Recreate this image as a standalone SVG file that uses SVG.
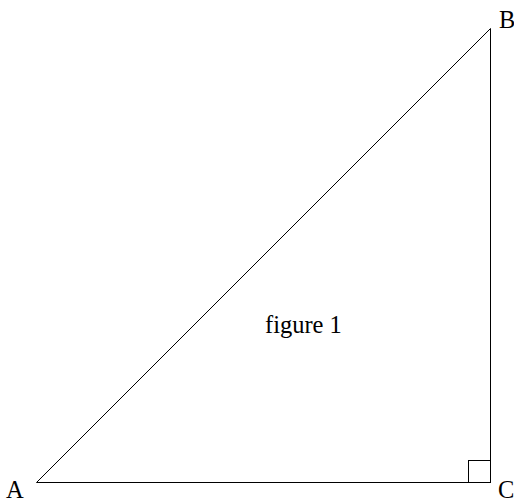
<svg xmlns="http://www.w3.org/2000/svg" width="514" height="501" viewBox="0 0 514 501">
<style>
.l{fill:none;stroke:#000;stroke-width:1}
.t{font-family:"Liberation Serif","Times New Roman",serif;font-size:24.5px;fill:#000}
</style>
<rect width="514" height="501" fill="#fff"/>
<g id="connectors">
<path class="l" d="M36.5 482.5 L490.5 28.5 L490.5 482.5 Z"/>
<rect class="l" x="468.5" y="460.5" width="22" height="22"/>
</g>
<g id="A"><text class="t" x="6" y="497.5">A</text></g>
<g id="B"><text class="t" x="499" y="28">B</text></g>
<g id="C"><text class="t" x="498" y="497.5">C</text></g>
<g id="label"><text class="t" x="265" y="333">figure 1</text></g>
</svg>
